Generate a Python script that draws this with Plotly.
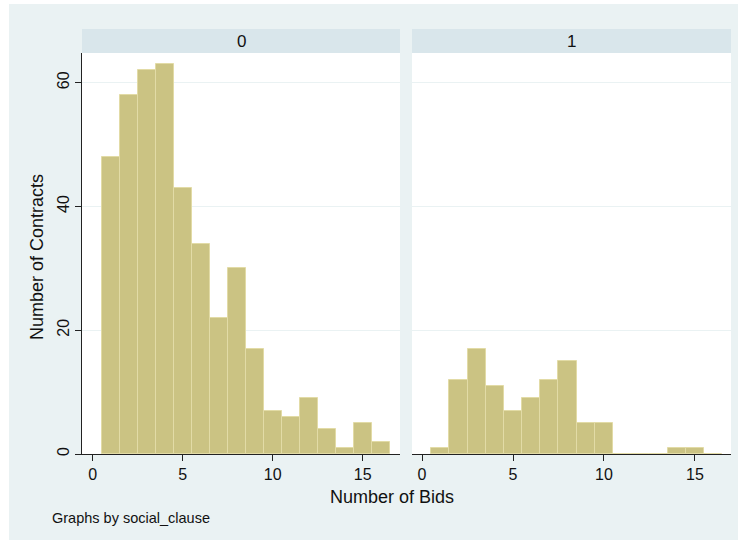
import plotly.graph_objects as go

bin_centers = list(range(1, 17))
counts_0 = [48, 58, 62, 63, 43, 34, 22, 30, 17, 7, 6, 9, 4, 1, 5, 2]
counts_1 = [1, 12, 17, 11, 7, 9, 12, 15, 5, 5, 0, 0, 0, 1, 1, 0]
panel_labels = ["0", "1"]
x_ticks = [0, 5, 10, 15]
y_ticks = [0, 20, 40, 60]

W, H = 747, 547
L, R, T, B = 82, 16, 29, 93
pw, ph = W - L - R, H - T - B

def px(x):
    return (x - L) / pw

def py(y):
    return (H - B - y) / ph

FONT = "Liberation Sans, Arial, Helvetica, sans-serif"
BAR = "#CBC383"
EDGE = "#E2DBA6"
FRAME = "#EAF2F3"
STRIP = "#D9E6EB"
INK = "#111111"

fig = go.Figure()
for i, counts in enumerate([counts_0, counts_1]):
    fig.add_trace(go.Bar(
        x=bin_centers, y=counts, width=1,
        marker=dict(color=BAR, line=dict(color=EDGE, width=1)),
        xaxis="x" if i == 0 else "x2", yaxis="y" if i == 0 else "y2",
        showlegend=False, hoverinfo="x+y",
    ))

ydom = [0, py(53)]
xd0 = [0, px(400)]
xd1 = [px(412), 1]
xr0 = [-0.6, 17.07]
xr1 = [-0.55, 16.98]
yr = [0, 64.8]

common_x = dict(tickvals=x_ticks, ticks="outside", ticklen=6, tickcolor="#222",
                showline=True, linecolor="#222", linewidth=1, showgrid=False,
                zeroline=False, tickfont=dict(size=16, color=INK, family=FONT))
common_y = dict(range=yr, tickvals=y_ticks, showgrid=True, gridcolor=FRAME,
                gridwidth=1, zeroline=False)

fig.update_layout(
    width=W, height=H,
    margin=dict(l=L, r=R, t=T, b=B, pad=0),
    paper_bgcolor=FRAME, plot_bgcolor="white",
    bargap=0,
    font=dict(family=FONT, color=INK),
    xaxis=dict(domain=xd0, range=xr0, anchor="y", **common_x),
    xaxis2=dict(domain=xd1, range=xr1, anchor="y2", **common_x),
    yaxis=dict(domain=ydom, anchor="x", ticks="outside", ticklen=6, tickcolor="#222",
               showline=True, linecolor="#222", linewidth=1, tickangle=-90,
               tickfont=dict(size=16, color=INK, family=FONT), **common_y),
    yaxis2=dict(domain=ydom, anchor="x2", showticklabels=False, ticks="",
                showline=False, **common_y),
)

shapes = []
# white outer border around the frame
for x0, x1, y0, y1 in [(0, 9, 0, H), (738, W, 0, H), (0, W, 0, 4), (0, W, 540, H)]:
    shapes.append(dict(type="rect", xref="paper", yref="paper",
                       x0=px(x0), x1=px(x1), y0=py(y1), y1=py(y0),
                       fillcolor="white", line=dict(width=0), layer="above"))
# strips
for xd in [xd0, xd1]:
    shapes.append(dict(type="rect", xref="paper", yref="paper",
                       x0=xd[0], x1=xd[1], y0=py(53), y1=py(29),
                       fillcolor=STRIP, line=dict(width=0), layer="below"))
fig.update_layout(shapes=shapes)

annotations = []
for lab, xd in zip(panel_labels, [xd0, xd1]):
    annotations.append(dict(text=lab, xref="paper", yref="paper",
                            x=(xd[0] + xd[1]) / 2, y=(py(53) + py(29)) / 2,
                            showarrow=False, xanchor="center", yanchor="middle",
                            font=dict(size=17, color=INK, family=FONT)))
annotations.append(dict(text="Number of Bids", xref="paper", yref="paper",
                        x=px(392), y=py(497), showarrow=False,
                        xanchor="center", yanchor="middle",
                        font=dict(size=18, color=INK, family=FONT)))
annotations.append(dict(text="Number of Contracts", xref="paper", yref="paper",
                        x=px(37), y=py(257), showarrow=False, textangle=-90,
                        xanchor="center", yanchor="middle",
                        font=dict(size=18, color=INK, family=FONT)))
annotations.append(dict(text="Graphs by social_clause", xref="paper", yref="paper",
                        x=px(50), y=py(518), showarrow=False,
                        xanchor="left", yanchor="middle",
                        font=dict(size=14.5, color=INK, family=FONT)))
fig.update_layout(annotations=annotations)

fig.write_html("out.html", config={"displayModeBar": False},
               post_script="document.body.style.margin='0';document.body.style.padding='0';")
